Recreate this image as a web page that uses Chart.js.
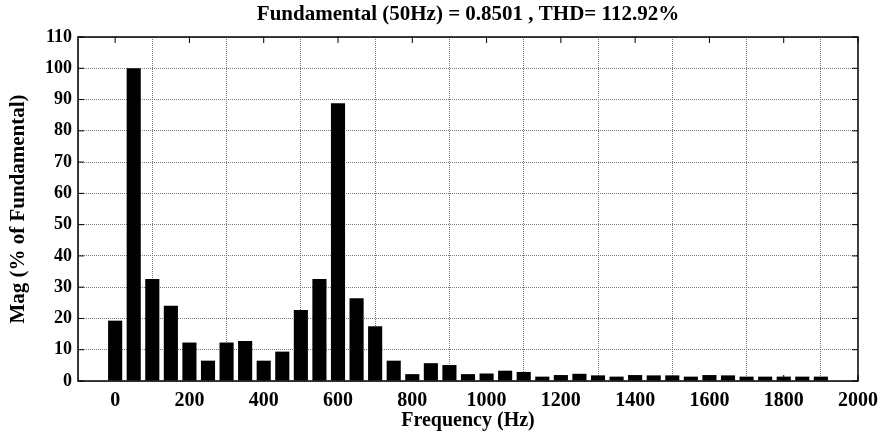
<!DOCTYPE html>
<html>
<head>
<meta charset="utf-8">
<script src="https://cdn.jsdelivr.net/npm/chart.js@4.4.1/dist/chart.umd.min.js"></script>
<style>
  html, body { margin: 0; padding: 0; background: #fff; }
  #wrap { width: 880px; height: 442px; }
</style>
</head>
<body>
<div id="wrap"><canvas id="fft"></canvas></div>
<script>
const FONT = '"Liberation Serif", "Times New Roman", serif';

// harmonic frequencies (Hz) and magnitudes (% of fundamental)
const freqHz = [0, 50, 100, 150, 200, 250, 300, 350, 400, 450,
  500, 550, 600, 650, 700, 750, 800, 850, 900, 950,
  1000, 1050, 1100, 1150, 1200, 1250, 1300, 1350, 1400, 1450,
  1500, 1550, 1600, 1650, 1700, 1750, 1800, 1850, 1900];
const magPct = [19.3, 100, 32.6, 24.1, 12.3, 6.5, 12.3, 12.8, 6.5, 9.4,
  22.7, 32.6, 88.8, 26.5, 17.5, 6.5, 2.2, 5.7, 5.1, 2.2,
  2.4, 3.3, 2.9, 1.4, 1.9, 2.3, 1.8, 1.4, 1.9, 1.8,
  1.8, 1.4, 1.9, 1.8, 1.4, 1.4, 1.4, 1.4, 1.4];
const xTicks = [0, 200, 400, 600, 800, 1000, 1200, 1400, 1600, 1800, 2000];

// black box around the plot with short inward tick marks
const frame = {
  id: 'frame',
  afterDraw(chart) {
    const { ctx, chartArea: a, scales } = chart;
    ctx.save();
    ctx.strokeStyle = '#000';
    ctx.lineWidth = 1.5;
    ctx.strokeRect(a.left, a.top, a.right - a.left, a.bottom - a.top);
    ctx.lineWidth = 1;
    ctx.beginPath();
    xTicks.forEach(v => {
      const x = scales.x.getPixelForValue(v);
      ctx.moveTo(x, a.top); ctx.lineTo(x, a.top + 6);
      ctx.moveTo(x, a.bottom); ctx.lineTo(x, a.bottom - 6);
    });
    for (let v = 0; v <= 110; v += 10) {
      const y = scales.y.getPixelForValue(v);
      ctx.moveTo(a.left, y); ctx.lineTo(a.left + 6, y);
      ctx.moveTo(a.right, y); ctx.lineTo(a.right - 6, y);
    }
    ctx.stroke();
    ctx.restore();
  }
};

const gridStyle = {
  color: '#7a7a7a',
  lineWidth: 1,
  drawTicks: false,
};

new Chart(document.getElementById('fft'), {
  type: 'bar',
  data: {
    datasets: [{
      data: freqHz.map((f, i) => ({ x: f, y: magPct[i] })),
      backgroundColor: '#000',
      borderWidth: 0,
      barPercentage: 0.76,
      categoryPercentage: 1,
    }],
  },
  options: {
    responsive: true,
    maintainAspectRatio: false,
    animation: false,
    layout: { padding: { right: 22, top: 0, left: 0, bottom: 0 } },
    plugins: {
      legend: { display: false },
      tooltip: { enabled: false },
      title: {
        display: true,
        fullSize: false,
        text: 'Fundamental (50Hz) = 0.8501 , THD= 112.92%',
        color: '#000',
        font: { family: FONT, size: 21, weight: 'bold' },
        padding: { top: 1.5, bottom: 10.3 },
      },
    },
    scales: {
      x: {
        type: 'linear',
        min: -100,
        max: 2000,
        offset: false,
        afterBuildTicks: s => { s.ticks = xTicks.map(v => ({ value: v })); },
        afterFit: s => {
          s.height = 61;
          s.paddingLeft = 0;
          s.paddingRight = 0;
        },
        grid: { ...gridStyle },
        border: { display: false, dash: [1, 1] },
        ticks: {
          color: '#000',
          padding: 8,
          maxRotation: 0,
          autoSkip: false,
          callback: v => String(v),
          font: { family: FONT, size: 20, weight: 'bold' },
        },
        title: {
          display: true,
          text: 'Frequency (Hz)',
          color: '#000',
          font: { family: FONT, size: 20, weight: 'bold' },
          padding: { bottom: 9 },
        },
      },
      y: {
        min: 0,
        max: 110,
        afterFit: s => { s.width = 78; },
        grid: { ...gridStyle },
        border: { display: false, dash: [1, 1] },
        ticks: {
          stepSize: 10,
          color: '#000',
          padding: 6,
          font: { family: FONT, size: 18, weight: 'bold' },
        },
        title: {
          display: true,
          text: 'Mag (% of Fundamental)',
          color: '#000',
          font: { family: FONT, size: 21, weight: 'bold' },
          padding: { top: 6 },
        },
      },
    },
  },
  plugins: [frame],
});
</script>
</body>
</html>
